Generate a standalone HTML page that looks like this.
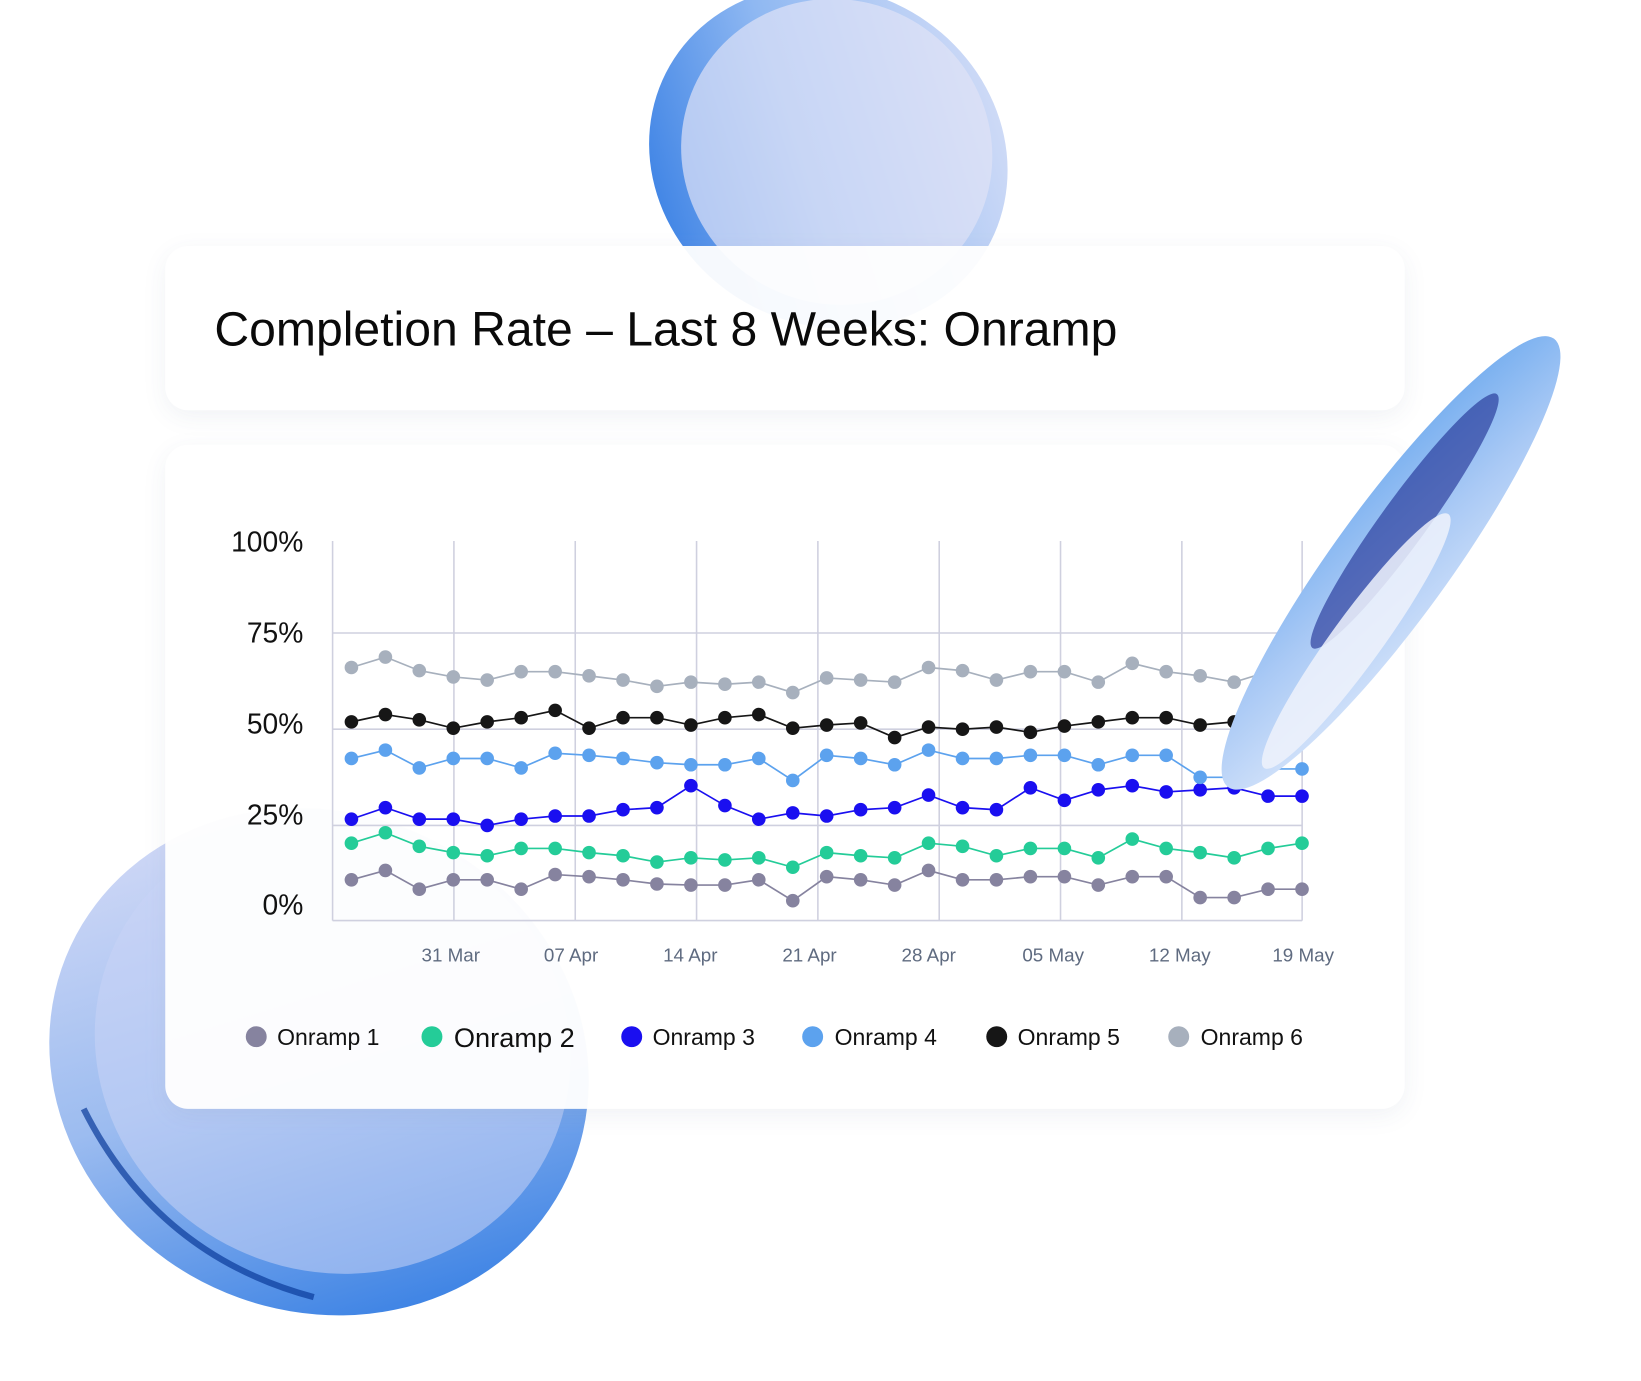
<!DOCTYPE html>
<html><head><meta charset="utf-8"><style>
html,body{margin:0;padding:0;background:#fff;}
svg{display:block}
text{font-family:"Liberation Sans",sans-serif}
</style></head><body>
<svg width="1641" height="1381" viewBox="0 0 1569 1320" xmlns="http://www.w3.org/2000/svg">
<defs>
<linearGradient id="lt" x1="0" y1="1" x2="1" y2="0">
<stop offset="0" stop-color="#1f6fe0"/><stop offset="0.45" stop-color="#8fb8f2"/><stop offset="1" stop-color="#e4e6f8"/></linearGradient>
<linearGradient id="lb" x1="0" y1="0" x2="1" y2="1">
<stop offset="0" stop-color="#e2e2f8"/><stop offset="0.5" stop-color="#9cbcf0"/><stop offset="1" stop-color="#1a6ee0"/></linearGradient>
<linearGradient id="lr" x1="0" y1="1" x2="1" y2="0">
<stop offset="0" stop-color="#dce8fb"/><stop offset="0.5" stop-color="#a9c9f5"/><stop offset="1" stop-color="#6aa8ee"/></linearGradient>
<filter id="sh" x="-10%" y="-10%" width="120%" height="130%"><feDropShadow dx="0" dy="6" stdDeviation="12" flood-color="#8090b0" flood-opacity="0.12"/></filter>
<marker id="m1" markerUnits="userSpaceOnUse" markerWidth="16" markerHeight="16" refX="8" refY="8"><circle cx="8" cy="8" r="6.5" fill="#86839f"/></marker>
<marker id="m2" markerUnits="userSpaceOnUse" markerWidth="16" markerHeight="16" refX="8" refY="8"><circle cx="8" cy="8" r="6.5" fill="#24cc98"/></marker>
<marker id="m3" markerUnits="userSpaceOnUse" markerWidth="16" markerHeight="16" refX="8" refY="8"><circle cx="8" cy="8" r="6.5" fill="#1a0ff0"/></marker>
<marker id="m4" markerUnits="userSpaceOnUse" markerWidth="16" markerHeight="16" refX="8" refY="8"><circle cx="8" cy="8" r="6.5" fill="#5ca2ee"/></marker>
<marker id="m5" markerUnits="userSpaceOnUse" markerWidth="16" markerHeight="16" refX="8" refY="8"><circle cx="8" cy="8" r="6.5" fill="#161616"/></marker>
<marker id="m6" markerUnits="userSpaceOnUse" markerWidth="16" markerHeight="16" refX="8" refY="8"><circle cx="8" cy="8" r="6.5" fill="#a7b0bd"/></marker>
</defs>
<rect width="1569" height="1320" fill="#fff"/>
<ellipse cx="792" cy="150" rx="175" ry="160" transform="rotate(30 792 150)" fill="url(#lt)"/>
<ellipse cx="800" cy="145" rx="150" ry="145" transform="rotate(30 800 145)" fill="#dfe3f7" opacity="0.7"/>
<ellipse cx="305" cy="1015" rx="262" ry="238" transform="rotate(25 305 1015)" fill="url(#lb)"/>
<ellipse cx="318" cy="1000" rx="230" ry="215" transform="rotate(25 318 1000)" fill="#c8d4f6" opacity="0.55"/>
<path d="M80 1060 Q150 1200 300 1240" stroke="#0a3a9a" stroke-width="6" fill="none" opacity="0.7"/>
<rect x="158" y="235" width="1185" height="157" rx="22" fill="#fff" opacity="0.95" filter="url(#sh)"/>
<text x="205" y="330" font-size="46" fill="#0a0a0a">Completion Rate – Last 8 Weeks: Onramp</text>
<rect x="158" y="425" width="1185" height="635" rx="22" fill="#fff" opacity="0.96" filter="url(#sh)"/>
<g stroke="#cfd0df" stroke-width="1.5">
<line x1="318" y1="605" x2="1245" y2="605"/><line x1="318" y1="697" x2="1245" y2="697"/><line x1="318" y1="789" x2="1245" y2="789"/>
<line x1="318" y1="517" x2="318" y2="880"/><line x1="434" y1="517" x2="434" y2="880"/><line x1="550" y1="517" x2="550" y2="880"/><line x1="666" y1="517" x2="666" y2="880"/><line x1="782" y1="517" x2="782" y2="880"/><line x1="898" y1="517" x2="898" y2="880"/><line x1="1014" y1="517" x2="1014" y2="880"/><line x1="1130" y1="517" x2="1130" y2="880"/><line x1="1245" y1="517" x2="1245" y2="880"/>
<line x1="318" y1="880" x2="1245" y2="880"/>
</g>
<g font-size="27" fill="#111" text-anchor="end">
<text x="290" y="527">100%</text><text x="290" y="614">75%</text><text x="290" y="701">50%</text><text x="290" y="788">25%</text><text x="290" y="874">0%</text>
</g>
<g font-size="18" fill="#5f6b80" text-anchor="middle">
<text x="431" y="919">31 Mar</text><text x="546" y="919">07 Apr</text><text x="660" y="919">14 Apr</text><text x="774" y="919">21 Apr</text><text x="888" y="919">28 Apr</text><text x="1007" y="919">05 May</text><text x="1128" y="919">12 May</text><text x="1246" y="919">19 May</text>
</g>
<g fill="none" stroke-width="1.6">
<polyline stroke="#86839f" marker-start="url(#m1)" marker-mid="url(#m1)" marker-end="url(#m1)" points="336,841 368.5,832 400.9,850 433.4,841 465.8,841 498.3,850 530.8,836 563.2,838 595.7,841 628.1,845 660.6,846 693.1,846 725.5,841 758,861 790.4,838 822.9,841 855.4,846 887.8,832 920.3,841 952.7,841 985.2,838 1017.7,838 1050.1,846 1082.6,838 1115,838 1147.5,858 1180,858 1212.4,850 1244.9,850"/>
<polyline stroke="#24cc98" marker-start="url(#m2)" marker-mid="url(#m2)" marker-end="url(#m2)" points="336,806 368.5,796 400.9,809 433.4,815 465.8,818 498.3,811 530.8,811 563.2,815 595.7,818 628.1,824 660.6,820 693.1,822 725.5,820 758,829 790.4,815 822.9,818 855.4,820 887.8,806 920.3,809 952.7,818 985.2,811 1017.7,811 1050.1,820 1082.6,802 1115,811 1147.5,815 1180,820 1212.4,811 1244.9,806"/>
<polyline stroke="#1a0ff0" marker-start="url(#m3)" marker-mid="url(#m3)" marker-end="url(#m3)" points="336,783 368.5,772 400.9,783 433.4,783 465.8,789 498.3,783 530.8,780 563.2,780 595.7,774 628.1,772 660.6,751 693.1,770 725.5,783 758,777 790.4,780 822.9,774 855.4,772 887.8,760 920.3,772 952.7,774 985.2,753 1017.7,765 1050.1,755 1082.6,751 1115,757 1147.5,755 1180,753 1212.4,761 1244.9,761"/>
<polyline stroke="#5ca2ee" marker-start="url(#m4)" marker-mid="url(#m4)" marker-end="url(#m4)" points="336,725 368.5,717 400.9,734 433.4,725 465.8,725 498.3,734 530.8,720 563.2,722 595.7,725 628.1,729 660.6,731 693.1,731 725.5,725 758,746 790.4,722 822.9,725 855.4,731 887.8,717 920.3,725 952.7,725 985.2,722 1017.7,722 1050.1,731 1082.6,722 1115,722 1147.5,743 1180,743 1212.4,735 1244.9,735"/>
<polyline stroke="#161616" marker-start="url(#m5)" marker-mid="url(#m5)" marker-end="url(#m5)" points="336,690 368.5,683 400.9,688 433.4,696 465.8,690 498.3,686 530.8,679 563.2,696 595.7,686 628.1,686 660.6,693 693.1,686 725.5,683 758,696 790.4,693 822.9,691 855.4,705 887.8,695 920.3,697 952.7,695 985.2,700 1017.7,694 1050.1,690 1082.6,686 1115,686 1147.5,693 1180,690 1212.4,688 1244.9,688"/>
<polyline stroke="#a7b0bd" marker-start="url(#m6)" marker-mid="url(#m6)" marker-end="url(#m6)" points="336,638 368.5,628 400.9,641 433.4,647 465.8,650 498.3,642 530.8,642 563.2,646 595.7,650 628.1,656 660.6,652 693.1,654 725.5,652 758,662 790.4,648 822.9,650 855.4,652 887.8,638 920.3,641 952.7,650 985.2,642 1017.7,642 1050.1,652 1082.6,634 1115,642 1147.5,646 1180,652 1212.4,642 1244.9,642"/>
</g>
<g font-size="22" fill="#111">
<circle cx="245" cy="991" r="10" fill="#86839f"/><text x="265" y="999">Onramp 1</text>
<circle cx="413" cy="991" r="10" fill="#24cc98"/><text x="434" y="1001" font-size="26">Onramp 2</text>
<circle cx="604" cy="991" r="10" fill="#1a0ff0"/><text x="624" y="999">Onramp 3</text>
<circle cx="777" cy="991" r="10" fill="#5ca2ee"/><text x="798" y="999">Onramp 4</text>
<circle cx="953" cy="991" r="10" fill="#161616"/><text x="973" y="999">Onramp 5</text>
<circle cx="1127" cy="991" r="10" fill="#a7b0bd"/><text x="1148" y="999">Onramp 6</text>
</g>
<g transform="rotate(-54 1330 538)">
<ellipse cx="1330" cy="538" rx="265" ry="55" fill="url(#lr)"/>
<ellipse cx="1370" cy="525" rx="150" ry="22" fill="#1a2a90" opacity="0.6"/>
<ellipse cx="1250" cy="555" rx="150" ry="24" fill="#eef2fc" opacity="0.85"/>
</g>
</svg>
</body></html>
